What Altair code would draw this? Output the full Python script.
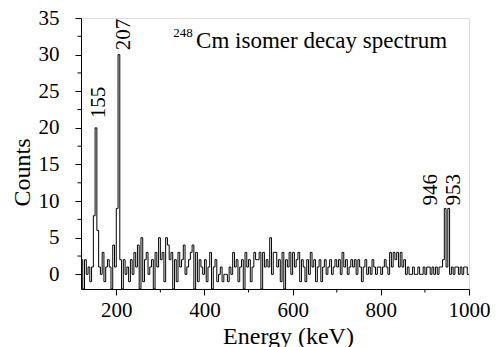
import altair as alt
import pandas as pd

# bin left edges (keV), 4 keV wide, 120..996
bin_start = 120
bin_width = 4
counts = [
    2, -2, 2, 0, 1, -1, 1, 8, 20, 6,
    1, 0, 3, -1, 1, 2, 1, -2, 4, 1,
    9, 30, 2, -2, 2, 0, 1, -1, 2, 0,
    3, 1, 4, -2, 5, -1, 2, 3, 0, 1,
    2, -2, 3, 1, 5, 2, 3, -1, 5, 4,
    2, 3, -2, 2, -1, 3, 1, 2, 4, 0,
    1, 2, 3, 4, -2, 3, -1, 2, 1, 0,
    2, -1, 1, 3, -2, 1, 2, -1, 0, 1,
    -1, 0, 0, -1, 1, 0, 3, 1, 2, -1,
    1, 2, -2, 3, 1, 2, -1, 1, 3, 2,
    2, 3, -2, 3, 1, 2, 1, 5, 0, 3,
    3, 1, 2, -1, 3, -2, 2, 1, 3, 0,
    3, 1, 2, 3, -1, 2, 1, -1, 2, 0,
    3, 1, 2, -1, 1, 2, -1, 1, 2, 0,
    1, 2, 0, 1, 2, 1, 2, 0, 3, 1,
    2, 0, 1, 2, 1, 2, 0, 2, 1, -1,
    1, 2, 0, 1, 0, 2, 1, 0, 1, 1,
    0, 1, 2, 1, 0, 3, 1, 3, 2, 3,
    1, 3, 1, 2, 0, 1, 0, 0, 1, 0,
    0, 1, 0, 0, 1, 0, 1, 1, 0, 1,
    0, 1, 0, 1, 1, 2, 9, 1, 9, 0,
    1, 0, 1, 1, 0, 1, 0, 1, 1, 0,
]

peak_labels = ["155", "207", "946", "953"]
peak_label_x = [160, 218, 913, 965]
peak_label_y = [21.3, 30.6, 9.4, 9.4]

x_ticks = [200, 400, 600, 800, 1000]
x_minor = [300, 500, 700, 900]
y_ticks = [0, 5, 10, 15, 20, 25, 30, 35]
y_minor = [2.5, 7.5, 12.5, 17.5, 22.5, 27.5, 32.5]

energies = [bin_start + i * bin_width for i in range(len(counts))]
spec = pd.DataFrame({"energy": energies + [energies[-1] + bin_width],
                     "counts": counts + [counts[-1]]})

FONT = "Liberation Serif"
W, H = 388, 271
xs = alt.Scale(domain=[120, 1000], nice=False, zero=False)
ys = alt.Scale(domain=[-2, 35], nice=False, zero=False)

x_axis = alt.Axis(values=x_ticks, format="d", grid=False, tickSize=6, labelPadding=4,
                  labelOverlap=False, labelFlush=False,
                  labelFont=FONT, titleFont=FONT, labelFontSize=21, titleFontSize=24,
                  titleX=207, titleY=54, titleBaseline="alphabetic",
                  titleAnchor="start", titleAlign="center")
y_axis = alt.Axis(values=y_ticks, format="d", grid=False, tickSize=6, labelPadding=16,
                  labelOverlap=False, labelFlush=False,
                  labelFont=FONT, titleFont=FONT, labelFontSize=21, titleFontSize=24,
                  titleX=-59, titleY=154, titleAngle=270, titleBaseline="middle",
                  titleAlign="center", titleAnchor="start")


def X(field):
    return alt.X(field, scale=xs, axis=x_axis, title="Energy (keV)")


def Y(field):
    return alt.Y(field, scale=ys, axis=y_axis, title="Counts")


line = alt.Chart(spec).mark_line(
    interpolate="step-after", color="black", strokeWidth=1, clip=True
).encode(x=X("energy:Q"), y=Y("counts:Q"))

xminor = alt.Chart(pd.DataFrame({"v": x_minor})).mark_rule(color="black", strokeWidth=1).encode(
    x=X("v:Q"), y=alt.value(H), y2=alt.value(H + 3.5))
yminor = alt.Chart(pd.DataFrame({"v": y_minor})).mark_rule(color="black", strokeWidth=1).encode(
    y=Y("v:Q"), x=alt.value(0), x2=alt.value(-3.5))

labels = alt.Chart(pd.DataFrame({"t": peak_labels, "x": peak_label_x, "y": peak_label_y})).mark_text(
    angle=270, align="left", baseline="middle", font=FONT, fontSize=21, color="black"
).encode(x=X("x:Q"), y=Y("y:Q"), text="t:N")

title_main = alt.Chart(pd.DataFrame({"t": ["Cm isomer decay spectrum"], "x": [381], "y": [30.9]})).mark_text(
    align="left", baseline="alphabetic", font=FONT, fontSize=23, color="black"
).encode(x=X("x:Q"), y=Y("y:Q"), text="t:N")
title_sup = alt.Chart(pd.DataFrame({"t": ["248"], "x": [329], "y": [32.4]})).mark_text(
    align="left", baseline="alphabetic", font=FONT, fontSize=13, color="black"
).encode(x=X("x:Q"), y=Y("y:Q"), text="t:N")

chart = alt.layer(title_main, title_sup, labels, line, xminor, yminor).properties(
    width=W, height=H,
    autosize=alt.AutoSizeParams(type="none"),
    padding={"left": 81, "top": 18, "right": 29, "bottom": 58},
).configure_view(stroke="black", strokeWidth=1).configure(
    background="white", font=FONT
).configure_axis(
    titleFontWeight="normal", labelColor="black", titleColor="black",
    domainColor="black", tickColor="black"
).configure_text(font=FONT)

chart.save("out.html", embed_options={"renderer": "svg", "actions": False})
